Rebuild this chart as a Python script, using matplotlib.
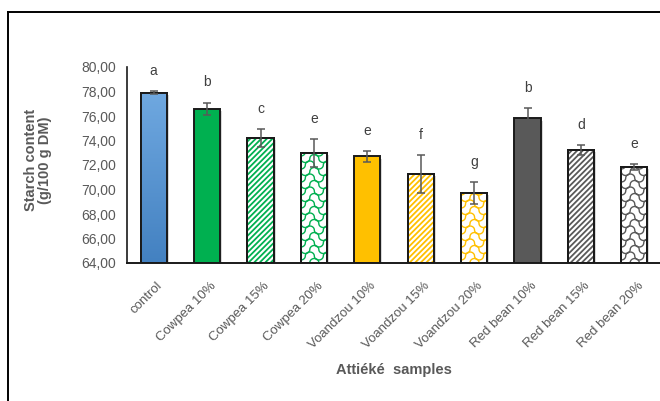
import numpy as np
import matplotlib
matplotlib.use("Agg")
import matplotlib.pyplot as plt
from matplotlib.patches import Rectangle
from matplotlib.lines import Line2D
from matplotlib.transforms import ScaledTranslation
import matplotlib.patheffects as pe

plt.rcParams["font.family"] = ["Liberation Sans", "DejaVu Sans"]
plt.rcParams["hatch.linewidth"] = 1.3

# Starch content of attiéké samples (g/100 g DM), mean ± SD
samples = ["control", "Cowpea 10%", "Cowpea 15%", "Cowpea 20%",
           "Voandzou 10%", "Voandzou 15%", "Voandzou 20%",
           "Red bean 10%", "Red bean 15%", "Red bean 20%"]
starch = [77.90, 76.60, 74.20, 73.00, 72.70, 71.25, 69.70, 75.80, 73.20, 71.85]
sd = [0.12, 0.50, 0.70, 1.15, 0.45, 1.55, 0.90, 0.82, 0.42, 0.26]
letters = ["a", "b", "c", "e", "e", "f", "g", "b", "d", "e"]

yticks = [64, 66, 68, 70, 72, 74, 76, 78, 80]

GREEN = "#00B050"
GOLD = "#FFC000"
DARK = "#595959"
BLUE_TOP, BLUE_BOT = "#6FA8E0", "#4381C1"

# fill style per bar: (face, pattern, pattern colour)
styles = [
    ("gradient", None, None),
    (GREEN, None, None),
    ("white", "stripe", GREEN),
    ("white", "wave", GREEN),
    (GOLD, None, None),
    ("white", "stripe", GOLD),
    ("white", "wave", GOLD),
    (DARK, None, None),
    ("white", "stripe", DARK),
    ("white", "wave", DARK),
]

W, H = 660, 401
fig = plt.figure(figsize=(W / 100, H / 100), dpi=100)
ax = fig.add_axes([127 / W, (H - 263) / H, 534 / W, 196 / H])
ax.set_xlim(-0.5, 9.5)
ax.set_ylim(64, 80)

x = np.arange(len(samples))
bw = 0.49
shadow = [pe.SimplePatchShadow(offset=(1.5, -1.5), shadow_rgbFace="#bfbfbf", alpha=0.6), pe.Normal()]


def outline(xc, v):
    ax.add_patch(Rectangle((xc - bw / 2, 64), bw, v - 64, fill=False,
                           edgecolor="#1a1a1a", linewidth=1.4, zorder=2.3))


for i, (v, st) in enumerate(zip(starch, styles)):
    face, pat, pcol = st
    fc = "white" if face == "gradient" else face
    b = ax.bar(x[i], v - 64, bottom=64, width=bw, color=fc, edgecolor="#1a1a1a",
               linewidth=1.4, zorder=2)[0]
    b.set_path_effects(shadow)
    if face == "gradient":
        grad = np.linspace(0, 1, 100).reshape(-1, 1)
        cmap = matplotlib.colors.LinearSegmentedColormap.from_list("bl", [BLUE_BOT, BLUE_TOP])
        im = ax.imshow(grad, cmap=cmap, origin="lower", aspect="auto",
                       extent=(x[i] - bw / 2, x[i] + bw / 2, 64, v), zorder=2.1)
        im.set_clip_path(b)
        outline(x[i], v)
    elif pat == "stripe":
        ax.add_patch(Rectangle((x[i] - bw / 2, 64), bw, v - 64, facecolor="none",
                               edgecolor=pcol, hatch="//////", linewidth=0, zorder=2.1))
        outline(x[i], v)
    elif pat == "wave":
        # wavy texture built from rows of S-shaped arcs in pixel units, clipped to the bar
        inv = ax.transData.inverted()
        x0p, y0p = ax.transData.transform((x[i] - bw / 2, 64))
        x1p, y1p = ax.transData.transform((x[i] + bw / 2, v))
        period, arc_h, gap = 9.0, 4.0, 6.5
        th = np.linspace(np.pi, 0, 16)
        row = 0
        yy = y0p - 6
        while yy < y1p + 8:
            shift = (row % 2) * period / 2
            cx = x0p - period + shift
            xs, ys = [], []
            k = 0
            while cx - period / 2 < x1p + period:
                sgn = 1 if k % 2 == 0 else -1
                xs.extend(cx + period / 2 * np.cos(th))
                ys.extend(yy + sgn * arc_h * np.sin(th))
                cx += period
                k += 1
            pts = inv.transform(np.column_stack([xs, ys]))
            ln = Line2D(pts[:, 0], pts[:, 1], color=pcol, linewidth=1.0, zorder=2.1)
            ax.add_line(ln)
            ln.set_clip_path(b)
            yy += gap
            row += 1
        outline(x[i], v)

ax.errorbar(x, starch, yerr=sd, fmt="none", ecolor="#595959", elinewidth=1.1,
            capsize=3.2, capthick=1.1, zorder=3)

for xi, v, e, lt in zip(x, starch, sd, letters):
    ax.annotate(lt, (xi, v + e), xytext=(0, 14.5), textcoords="offset points",
                ha="center", va="center", fontsize=10, color="#404040")

ax.set_yticks(yticks)
ax.set_yticklabels([f"{t:.2f}".replace(".", ",") for t in yticks])
ax.set_xticks(x)
ax.set_xticklabels(samples, rotation=45, ha="right", va="center",
                   rotation_mode="anchor")
ax.tick_params(axis="both", length=0, colors="#595959")
ax.tick_params(axis="y", pad=8, labelsize=10)
ax.tick_params(axis="x", pad=15, labelsize=9.5)
for lab in ax.get_xticklabels():
    lab.set_transform(lab.get_transform() + ScaledTranslation(7 / 100, 0, fig.dpi_scale_trans))

for s in ["top", "right"]:
    ax.spines[s].set_visible(False)
ax.spines["left"].set_color("#1a1a1a")
ax.spines["bottom"].set_color("#1a1a1a")
ax.spines["left"].set_linewidth(1.2)
ax.spines["bottom"].set_linewidth(1.4)

fig.text(38 / W, 1 - 160 / H, "Starch content\n(g/100 g DM)", rotation=90,
         ha="center", va="center", fontsize=10.5, fontweight="bold",
         color="#595959", linespacing=1.05)
fig.text(394 / W, 1 - 370 / H, "Attiéké  samples", ha="center", va="center",
         fontsize=10.5, fontweight="bold", color="#595959")

# outer chart frame (left and top edges visible)
fig.add_artist(Line2D([8 / W, 8 / W], [0, 1 - 12 / H], color="black", linewidth=1.4,
                      transform=fig.transFigure))
fig.add_artist(Line2D([8 / W, 1.0], [1 - 12 / H, 1 - 12 / H], color="black",
                      linewidth=1.4, transform=fig.transFigure))

fig.savefig("out.png", dpi=100)
